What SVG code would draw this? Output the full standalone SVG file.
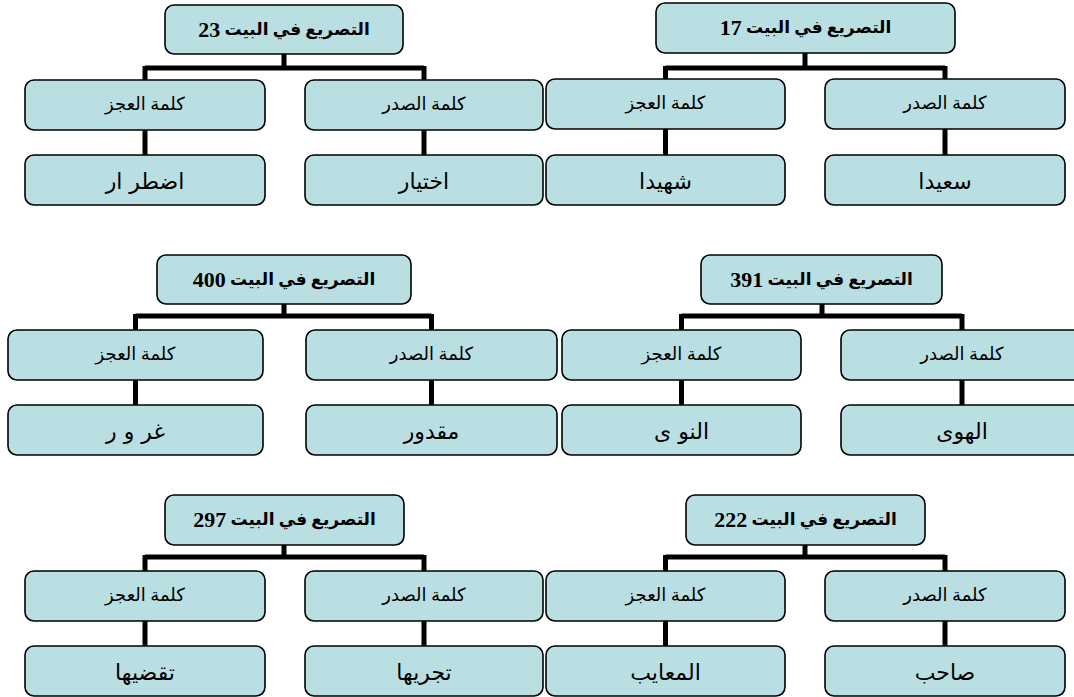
<svg xmlns="http://www.w3.org/2000/svg" width="1074" height="697" viewBox="0 0 1074 697">
<style>
.box{fill:#b9dfe3;stroke:#000;stroke-width:1.6}
.ln{stroke:#000;stroke-width:5;fill:none;stroke-linecap:butt}
text{font-family:"Liberation Serif","DejaVu Sans",serif;text-anchor:middle;dominant-baseline:central;direction:rtl;fill:#000}
.t{font-size:17px;font-weight:bold}
.n{font-size:22px}
.c{font-size:18px}
.g{font-size:22px;font-family:"DejaVu Sans","Liberation Sans",sans-serif}
</style>
<rect width="1074" height="697" fill="#fff"/>
<g id="connectors">
<path class="ln" d="M284 54V68M145 68H424M145 66V80M424 66V80M145 130V155M424 130V155"/>
<path class="ln" d="M805 53V68M665.5 68H945M665.5 66V79M945 66V79M665.5 129V155M945 129V155"/>
<path class="ln" d="M284 304V316M135.5 316H431.5M135.5 314V330M431.5 314V330M135.5 380V405M431.5 380V405"/>
<path class="ln" d="M822 304V316M681.5 316H962M681.5 314V330M962 314V330M681.5 380V405M962 380V405"/>
<path class="ln" d="M284 545V557M145 557H424M145 555V571M424 555V571M145 621V646M424 621V646"/>
<path class="ln" d="M805 545V557M665.5 557H945M665.5 555V571M945 555V571M665.5 621V646M945 621V646"/>
</g>
<g id="n-root-23"><rect class="box" x="165" y="5" width="238" height="49" rx="9"/><text class="t" x="284" y="29">التصريع في البيت <tspan class="n">23</tspan></text></g>
<g id="n-a-ajz"><rect class="box" x="25" y="80" width="240" height="50" rx="9"/><text class="c" x="145" y="104">كلمة العجز</text></g>
<g id="n-a-sadr"><rect class="box" x="305" y="80" width="238" height="50" rx="9"/><text class="c" x="424" y="104">كلمة الصدر</text></g>
<g id="n-a-g1"><rect class="box" x="25" y="155" width="240" height="50" rx="9"/><text class="g" x="145" y="181">اضطر ار</text></g>
<g id="n-a-g2"><rect class="box" x="305" y="155" width="238" height="50" rx="9"/><text class="g" x="424" y="181">اختيار</text></g>

<g id="n-root-17"><rect class="box" x="656" y="3" width="299" height="50" rx="9"/><text class="t" x="805.5" y="27">التصريع في البيت <tspan class="n">17</tspan></text></g>
<g id="n-b-ajz"><rect class="box" x="546" y="79" width="239" height="50" rx="9"/><text class="c" x="665.5" y="103">كلمة العجز</text></g>
<g id="n-b-sadr"><rect class="box" x="825" y="79" width="240" height="50" rx="9"/><text class="c" x="945" y="103">كلمة الصدر</text></g>
<g id="n-b-g1"><rect class="box" x="546" y="155" width="239" height="50" rx="9"/><text class="g" x="665.5" y="181">شهيدا</text></g>
<g id="n-b-g2"><rect class="box" x="825" y="155" width="240" height="50" rx="9"/><text class="g" x="945" y="181">سعيدا</text></g>

<g id="n-root-400"><rect class="box" x="157" y="255" width="254" height="49" rx="9"/><text class="t" x="284" y="279">التصريع في البيت <tspan class="n">400</tspan></text></g>
<g id="n-c-ajz"><rect class="box" x="8" y="330" width="255" height="50" rx="9"/><text class="c" x="135.5" y="354">كلمة العجز</text></g>
<g id="n-c-sadr"><rect class="box" x="306" y="330" width="251" height="50" rx="9"/><text class="c" x="431.5" y="354">كلمة الصدر</text></g>
<g id="n-c-g1"><rect class="box" x="8" y="405" width="255" height="50" rx="9"/><text class="g" x="135.5" y="431">غر و ر</text></g>
<g id="n-c-g2"><rect class="box" x="306" y="405" width="251" height="50" rx="9"/><text class="g" x="431.5" y="431">مقدور</text></g>

<g id="n-root-391"><rect class="box" x="701" y="255" width="241" height="49" rx="9"/><text class="t" x="821.5" y="279">التصريع في البيت <tspan class="n">391</tspan></text></g>
<g id="n-d-ajz"><rect class="box" x="562" y="330" width="239" height="50" rx="9"/><text class="c" x="681.5" y="354">كلمة العجز</text></g>
<g id="n-d-sadr"><rect class="box" x="841" y="330" width="242" height="50" rx="9"/><text class="c" x="962" y="354">كلمة الصدر</text></g>
<g id="n-d-g1"><rect class="box" x="562" y="405" width="239" height="50" rx="9"/><text class="g" x="681.5" y="431">النو ى</text></g>
<g id="n-d-g2"><rect class="box" x="841" y="405" width="242" height="50" rx="9"/><text class="g" x="962" y="431">الهوى</text></g>

<g id="n-root-297"><rect class="box" x="165" y="495" width="239" height="50" rx="9"/><text class="t" x="284.5" y="519">التصريع في البيت <tspan class="n">297</tspan></text></g>
<g id="n-e-ajz"><rect class="box" x="25" y="571" width="240" height="50" rx="9"/><text class="c" x="145" y="595">كلمة العجز</text></g>
<g id="n-e-sadr"><rect class="box" x="305" y="571" width="238" height="50" rx="9"/><text class="c" x="424" y="595">كلمة الصدر</text></g>
<g id="n-e-g1"><rect class="box" x="25" y="646" width="240" height="50" rx="9"/><text class="g" x="145" y="672">تقضيها</text></g>
<g id="n-e-g2"><rect class="box" x="305" y="646" width="238" height="50" rx="9"/><text class="g" x="424" y="672">تجريها</text></g>

<g id="n-root-222"><rect class="box" x="686" y="495" width="239" height="50" rx="9"/><text class="t" x="805.5" y="519">التصريع في البيت <tspan class="n">222</tspan></text></g>
<g id="n-f-ajz"><rect class="box" x="546" y="571" width="239" height="50" rx="9"/><text class="c" x="665.5" y="595">كلمة العجز</text></g>
<g id="n-f-sadr"><rect class="box" x="825" y="571" width="240" height="50" rx="9"/><text class="c" x="945" y="595">كلمة الصدر</text></g>
<g id="n-f-g1"><rect class="box" x="546" y="646" width="239" height="50" rx="9"/><text class="g" x="665.5" y="672">المعايب</text></g>
<g id="n-f-g2"><rect class="box" x="825" y="646" width="240" height="50" rx="9"/><text class="g" x="945" y="672">صاحب</text></g>
</svg>
